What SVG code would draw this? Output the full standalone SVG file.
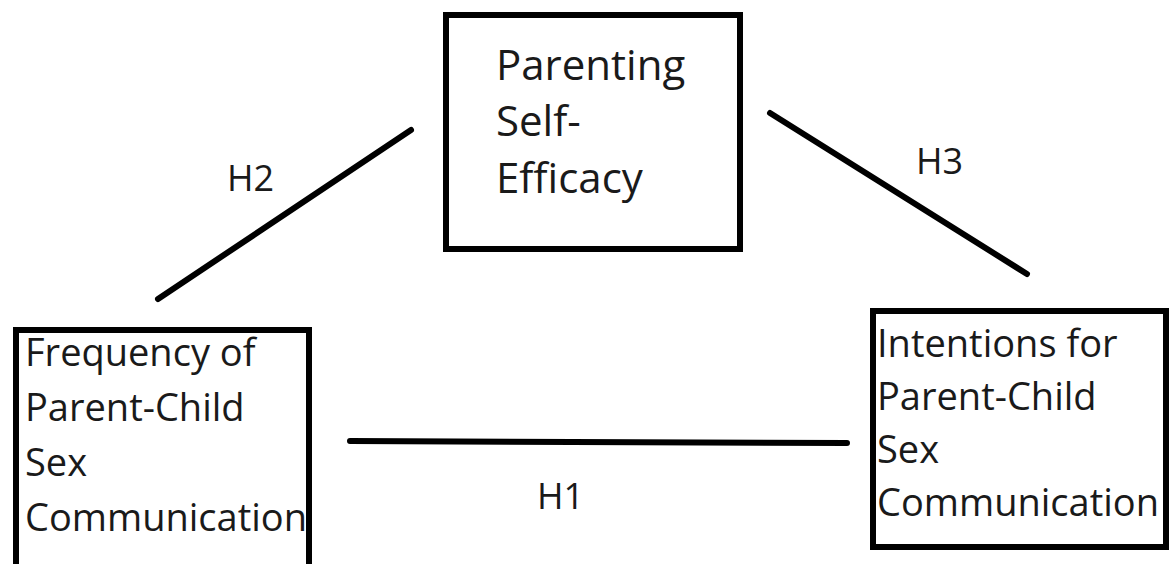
<svg xmlns="http://www.w3.org/2000/svg" width="1170" height="564" viewBox="0 0 1170 564">
<style>
.box{fill:#fff;stroke:#000;stroke-width:6}
.t{font-family:"Open Sans","Noto Sans",sans-serif;fill:#1a1a1a}
.big{font-size:42px}
.mid{font-size:38px}
.lab{font-size:36px}
.edge{stroke:#000;stroke-width:6;stroke-linecap:round;fill:none}
</style>
<rect width="1170" height="564" fill="#fff"/>
<g id="connectors">
<line class="edge" x1="158" y1="299" x2="411" y2="130"/>
<line class="edge" x1="770" y1="113" x2="1027" y2="274"/>
<line class="edge" x1="350" y1="441" x2="847" y2="443"/>
<text class="t lab" x="227" y="191">H2</text>
<text class="t lab" x="916" y="174">H3</text>
<text class="t lab" x="537" y="509">H1</text>
</g>
<g id="node-self-efficacy">
<rect class="box" x="446" y="15" width="294" height="234"/>
<text class="t big" x="496" y="80">Parenting</text>
<text class="t big" x="496" y="136">Self-</text>
<text class="t big" x="496" y="193">Efficacy</text>
</g>
<g id="node-frequency">
<rect class="box" x="16" y="330" width="293" height="280"/>
<text class="t mid" x="25" y="366">Frequency of</text>
<text class="t mid" x="25" y="421">Parent-Child</text>
<text class="t mid" x="25" y="476">Sex</text>
<text class="t mid" x="25" y="531">Communication</text>
</g>
<g id="node-intentions">
<rect class="box" x="873" y="311" width="293" height="236"/>
<text class="t mid" x="877" y="357">Intentions for</text>
<text class="t mid" x="877" y="410">Parent-Child</text>
<text class="t mid" x="877" y="463">Sex</text>
<text class="t mid" x="877" y="516">Communication</text>
</g>
</svg>
